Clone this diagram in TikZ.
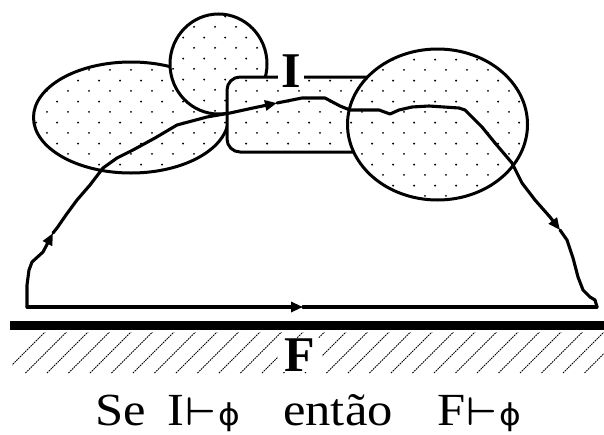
\documentclass[tikz,border=0pt]{standalone}
\usepackage{fontspec}
\setmainfont{Liberation Serif}
\newfontfamily\symfont{DejaVu Sans}
\usetikzlibrary{patterns,arrows.meta}
\pgfdeclarepatternformonly{stagdots}{\pgfpointorigin}{\pgfpoint{21pt}{21.2pt}}{\pgfpoint{21pt}{21.2pt}}{%
  \pgfpathcircle{\pgfpoint{5.25pt}{5.3pt}}{1.1pt}%
  \pgfpathcircle{\pgfpoint{15.75pt}{15.9pt}}{1.1pt}%
  \pgfusepath{fill}}
\newcommand{\tstile}{\scalebox{4}{\normalsize\boldmath$\vdash$}}
\newcommand{\phisym}{{\symfont\fontsize{30}{30}\selectfont ϕ}}
\begin{document}
\begin{tikzpicture}[x=1pt,y=-1pt,
  outl/.style={line width=3pt, draw=black, preaction={fill=white}, pattern=stagdots},
  pth/.style={line width=3.1pt, line join=round, line cap=round},
  tipped/.style={pth, -{Triangle[length=12pt,width=10pt]}},
  bigbold/.style={font=\bfseries\fontsize{50}{50}\selectfont, fill=white},
  caption/.style={font=\fontsize{46}{46}\selectfont, anchor=base west, inner sep=0pt}]
\useasboundingbox (0,0) rectangle (604,434);
\fill[white] (0,0) rectangle (604,434);
% shapes
\draw[outl] (131,117.5) ellipse [x radius=97.5, y radius=55.5];
\draw[outl] (218.5,64) ellipse [x radius=48.5, y radius=50];
\draw[outl, rounded corners=13pt] (227,77) rectangle (380,152);
\draw[outl] (437.5,124.5) ellipse [x radius=90, y radius=75.5];
% path
\draw[tipped] (27,307) -- (27,285) -- (29,270) -- (32,262) -- (43,252) -- (53,233);
\draw[tipped] (53,233) -- (57,228) -- (66,215) -- (77,200) -- (90,185) -- (103,168) -- (117,158) -- (133,150) -- (155,138) -- (177,125) -- (207,117) -- (230,113) -- (253,108) -- (277,103);
\draw[tipped] (277,103) -- (302,98) -- (325,98) -- (340,106) -- (350,110) -- (379,110) -- (390,114) -- (399,110) -- (412,107) -- (429,106) -- (459,108) -- (465,110) -- (482,127) -- (495,143) -- (512,163) -- (522,183) -- (535,200) -- (550,217) -- (560,230);
\draw[pth] (560,230) -- (567,240) -- (573,258) -- (578,277) -- (583,290) -- (590,297) -- (595,300) -- (597,307);
\draw[tipped] (27,307) -- (303,307);
\draw[pth] (303,307) -- (597,307);
% label I
\node[bigbold, inner xsep=3pt, inner ysep=1pt] (lblI) at (291,71.5) {I};
% ground
\begin{scope}
\clip (12,332) rectangle (604,373);
\foreach \i in {0,...,30} \draw[line width=1pt, dash pattern=on 1.6pt off 0.9pt] ({4+21.5*\i},373) -- ({46+21.5*\i},331);
\end{scope}
\draw[line width=9pt] (10,325.5) -- (604,325.5);
\node[bigbold, inner xsep=7pt, inner ysep=1pt] (lblF) at (300,355) {F};
% caption
\node[caption] (capSe) at (95,425) {\scalebox{1.1}[1]{Se}};
\node[caption] (capI) at (167,425) {\scalebox{1.1}[1]{I\kern1pt\tstile\kern2pt\phisym}};
\node[caption] (capEnt) at (283,425) {\scalebox{1.1}[1]{então}};
\node[caption] (capF) at (437,425) {\scalebox{1.1}[1]{F\kern1pt\tstile\kern2pt\phisym}};
\end{tikzpicture}
\end{document}
